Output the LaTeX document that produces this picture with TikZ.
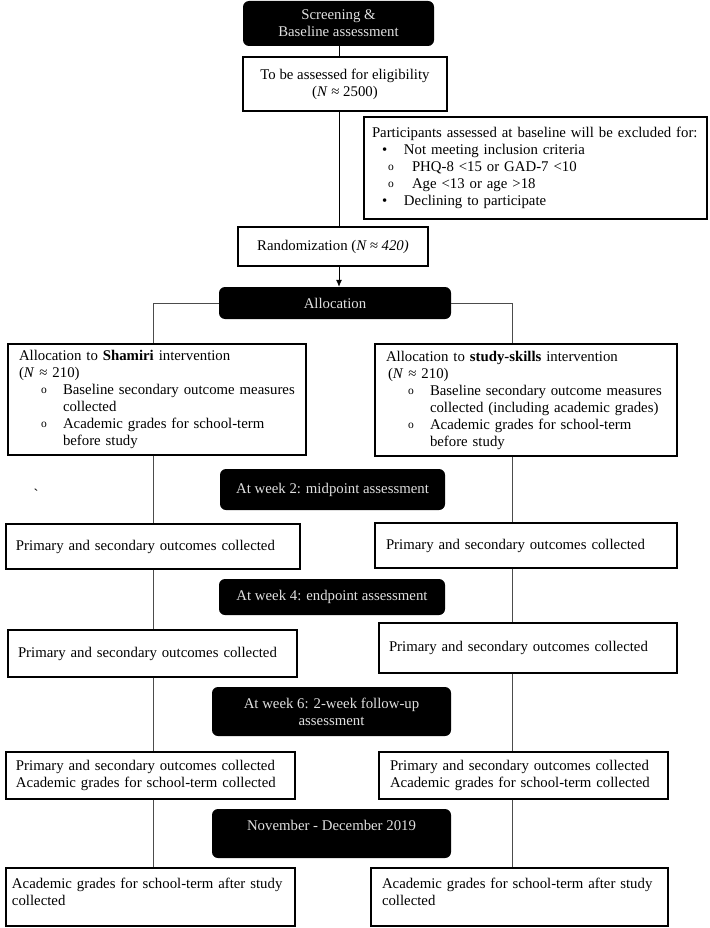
\documentclass[tikz,border=0pt]{standalone}
\usepackage{fontspec}
\setmainfont{Liberation Serif}
\usetikzlibrary{arrows.meta}

\tikzset{
  darkbox/.style={fill=black, rounded corners=6pt, text=white!88!black, align=center, inner sep=0pt},
  plainbox/.style={draw, line width=1.4pt, fill=white, inner sep=0pt, align=center},
  listbox/.style={draw, line width=1.4pt, fill=white, inner ysep=0pt, align=left},
  link/.style={draw=black!70, line width=0.8pt},
}
\newcommand{\ringmark}{\raisebox{1pt}{\fontsize{11.5}{17}\selectfont o}}
\newcommand{\circitem}[1]{\hspace*{22pt}\makebox[22pt][l]{\ringmark}#1}
\newcommand{\circcont}[1]{\hspace*{44pt}#1}

\begin{document}
\begin{tikzpicture}[x=1pt, y=-1pt, every node/.style={font=\fontsize{14.8}{17}\selectfont}]
  \useasboundingbox (0,0) rectangle (709,928);
  \coordinate (spine) at (339,0);
  \coordinate (colL) at (153,0);
  \coordinate (colR) at (512,0);

  % Nodes
  \node[darkbox, minimum width=191pt, minimum height=45pt] (screen) at (338.5,23.5) {Screening \&\\Baseline assessment};
  \node[plainbox, minimum width=204pt, minimum height=54pt] (elig) at (345,84) {To be assessed for eligibility\\(\textit{N} ≈ 2500)};
  \node[listbox, text width=335pt, inner xsep=4pt, minimum height=102pt] (excl) at (535.5,168) {\hspace*{4pt}Participants assessed at baseline will be excluded for:\\
    \hspace*{14pt}\makebox[22pt][l]{\textbullet}Not meeting inclusion criteria\\
    \hspace*{20pt}\makebox[24pt][l]{\ringmark}PHQ-8 <15 or GAD-7 <10\\
    \hspace*{20pt}\makebox[24pt][l]{\ringmark}Age <13 or age >18\\
    \hspace*{14pt}\makebox[22pt][l]{\textbullet}Declining to participate};
  \node[plainbox, minimum width=190pt, minimum height=39pt] (rand) at (333,246.5) {Randomization (\textit{N ≈ 420)}};
  \node[darkbox, minimum width=232pt, minimum height=32pt] (alloc) at (335,303) {Allocation};
  \node[listbox, text width=276pt, inner xsep=11pt, minimum height=111pt] (sham) at (157,399.5) {Allocation to \textbf{Shamiri} intervention\\(\textit{N} ≈ 210)\\
    \circitem{Baseline secondary outcome measures}\\ \circcont{collected}\\
    \circitem{Academic grades for school-term}\\ \circcont{before study}};
  \node[listbox, text width=280pt, inner xsep=11pt, minimum height=112pt] (study) at (526,400) {Allocation to \textbf{study-skills} intervention\\ \hspace*{2pt}(\textit{N} ≈ 210)\\
    \circitem{Baseline secondary outcome measures}\\ \circcont{collected (including academic grades)}\\
    \circitem{Academic grades for school-term}\\ \circcont{before study}};
  \node[darkbox, minimum width=225pt, minimum height=41pt] (wk2) at (332.5,489.5) {At week 2: midpoint assessment};
  \node (tick) at (36,494) {\textasciigrave};
  \node[listbox, text width=274pt, inner xsep=10pt, minimum height=45pt] (pL1) at (153,546.5) {Primary and secondary outcomes collected};
  \node[listbox, text width=280pt, inner xsep=11pt, minimum height=45pt] (pR1) at (526,545.5) {Primary and secondary outcomes collected};
  \node[darkbox, minimum width=226pt, minimum height=36pt] (wk4) at (332,597) {At week 4: endpoint assessment};
  \node[listbox, text width=269pt, inner xsep=10pt, minimum height=47pt] (pL2) at (152.5,653.5) {Primary and secondary outcomes collected};
  \node[listbox, text width=278pt, inner xsep=10pt, minimum height=50pt] (pR2) at (528,648) {Primary and secondary outcomes collected};
  \node[darkbox, minimum width=239pt, minimum height=49pt] (wk6) at (331.5,711.5) {At week 6: 2-week follow-up\\assessment};
  \node[listbox, text width=269pt, inner xsep=10pt, minimum height=47pt] (pL3) at (150.5,775.5) {Primary and secondary outcomes collected\\Academic grades for school-term collected};
  \node[listbox, text width=267pt, inner xsep=11pt, minimum height=47pt] (pR3) at (523.5,775.5) {Primary and secondary outcomes collected\\Academic grades for school-term collected};
  \node[darkbox, minimum width=239pt, minimum height=49pt] (nov) at (331.5,833.5) {November - December 2019\\ \mbox{}};
  \node[listbox, text width=277pt, inner xsep=6pt, minimum height=58pt] (fL) at (150.5,897) {Academic grades for school-term after study\\collected\\[-6pt]\mbox{}};
  \node[listbox, text width=275pt, inner xsep=11pt, minimum height=58pt] (fR) at (519.5,897) {Academic grades for school-term after study\\collected\\[-6pt]\mbox{}};

  % Edges
  \draw[link, draw=black] (spine |- screen.south) -- (spine |- elig.north);
  \draw[link, draw=black] (spine |- elig.south) -- (spine |- rand.north);
  \draw[link, draw=black, -{Latex[length=7pt,width=6pt]}] (spine |- rand.south) -- (spine |- alloc.north);
  \draw[link] (alloc.west) -| (colL |- sham.north);
  \draw[link] (alloc.east) -| (colR |- study.north);
  \draw[link] (colL |- sham.south) -- (colL |- pL1.north);
  \draw[link] (colL |- pL1.south) -- (colL |- pL2.north);
  \draw[link] (colL |- pL2.south) -- (colL |- pL3.north);
  \draw[link] (colL |- pL3.south) -- (colL |- fL.north);
  \draw[link] (colR |- study.south) -- (colR |- pR1.north);
  \draw[link] (colR |- pR1.south) -- (colR |- pR2.north);
  \draw[link] (colR |- pR2.south) -- (colR |- pR3.north);
  \draw[link] (colR |- pR3.south) -- (colR |- fR.north);
\end{tikzpicture}
\end{document}
